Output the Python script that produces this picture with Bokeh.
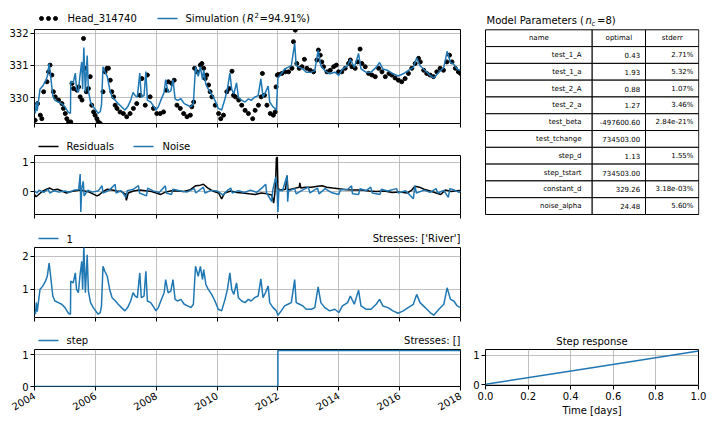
import math
import numpy as np
import pandas as pd
from bokeh.plotting import figure
from bokeh.layouts import row, column
from bokeh.models import (Range1d, FixedTicker, DatetimeTickFormatter,
                          CustomJSTickFormatter, PrintfTickFormatter)
from bokeh.core.properties import value
from bokeh.embed import file_html
from bokeh.resources import INLINE

# ---------------- data ----------------
# observed head (decimal year, m)
obs_t = [2004.02, 2004.10, 2004.19, 2004.24, 2004.30, 2004.41, 2004.46, 2004.51, 2004.57, 2004.62,
         2004.68, 2004.79, 2004.90, 2004.95, 2005.01, 2005.06, 2005.12, 2005.19, 2005.23, 2005.28,
         2005.39, 2005.45, 2005.50, 2005.56, 2005.61, 2005.64, 2005.70, 2005.77, 2005.83, 2005.88,
         2005.94, 2005.99, 2006.05, 2006.10, 2006.16, 2006.25, 2006.32, 2006.38, 2006.43, 2006.49,
         2006.54, 2006.60, 2006.65, 2006.71, 2006.81, 2006.92, 2007.03, 2007.14, 2007.25, 2007.36,
         2007.47, 2007.53, 2007.64, 2007.71, 2007.80, 2007.91, 2008.02, 2008.13, 2008.24, 2008.33,
         2008.40, 2008.51, 2008.59, 2008.68, 2008.79, 2008.90, 2009.01, 2009.12, 2009.17, 2009.23,
         2009.26, 2009.34, 2009.45, 2009.50, 2009.56, 2009.61, 2009.66, 2009.72, 2009.77, 2009.83,
         2009.94, 2010.05, 2010.12, 2010.21, 2010.32, 2010.40, 2010.49, 2010.54, 2010.60, 2010.71,
         2010.81, 2010.92, 2011.03, 2011.17, 2011.25, 2011.36, 2011.45, 2011.49, 2011.56, 2011.64,
         2011.75, 2011.85, 2011.91, 2011.94, 2011.98, 2012.02, 2012.13, 2012.24, 2012.35, 2012.46,
         2012.51, 2012.57, 2012.62, 2012.70, 2012.79, 2012.87, 2012.95, 2013.06, 2013.17, 2013.28,
         2013.33, 2013.39, 2013.44, 2013.50, 2013.61, 2013.72, 2013.83, 2013.92, 2013.99, 2014.10,
         2014.21, 2014.32, 2014.38, 2014.43, 2014.54, 2014.62, 2014.70, 2014.76, 2014.87, 2014.98,
         2015.09, 2015.20, 2015.31, 2015.42, 2015.53, 2015.65, 2015.74, 2015.85, 2015.96, 2016.07,
         2016.18, 2016.29, 2016.40, 2016.51, 2016.62, 2016.68, 2016.79, 2016.89, 2017.00, 2017.11,
         2017.22, 2017.33, 2017.44, 2017.55, 2017.64, 2017.72, 2017.83, 2017.93, 2018.00]
obs_h = [329.29, 329.81, 329.45, 329.34, 330.18, 330.49, 330.80, 331.01, 330.70, 330.18,
         330.02, 329.92, 329.81, 329.66, 329.50, 329.34, 329.24, 329.24, 330.44, 330.28,
         330.23, 330.33, 330.02, 329.92, 331.84, 330.91, 330.18, 330.28, 330.65, 329.76,
         329.55, 329.45, 329.34, 329.24, 329.19, 330.18, 330.80, 330.91, 330.91, 330.54,
         330.18, 330.02, 329.76, 329.66, 329.55, 329.50, 329.40, 329.50, 329.66, 329.81,
         330.07, 330.59, 329.76, 330.70, 330.02, 329.66, 329.50, 329.50, 329.55, 330.23,
         330.49, 330.44, 330.54, 329.76, 329.66, 329.50, 329.40, 329.45, 329.71, 329.86,
         330.91, 330.80, 331.01, 331.06, 330.91, 330.59, 330.70, 330.39, 330.18, 330.02,
         329.76, 329.50, 329.34, 329.45, 330.18, 330.28, 330.82, 330.07, 330.02, 329.92,
         329.76, 329.60, 329.50, 329.34, 329.60, 329.76, 330.02, 330.75, 330.07, 329.76,
         329.50, 329.45, 329.55, 330.33, 330.70, 330.72, 330.75, 330.80, 330.80, 330.91,
         331.74, 332.10, 331.06, 330.91, 330.96, 331.19, 330.91, 330.85, 330.80, 331.17,
         331.48, 331.32, 331.11, 330.96, 330.80, 330.85, 330.96, 331.01, 330.80, 330.80,
         330.91, 331.06, 331.17, 330.96, 330.91, 331.11, 331.51, 331.06, 330.96, 330.75,
         330.70, 330.65, 330.91, 330.80, 330.65, 330.75, 330.70, 330.61, 330.54, 330.49,
         330.59, 330.75, 330.91, 331.06, 331.22, 331.11, 330.85, 330.75, 330.70, 330.65,
         330.80, 330.91, 330.85, 331.11, 331.32, 331.11, 330.91, 330.80, 330.75]

# simulated head and river contribution share the same time stamps
sim_t = [2004.00, 2004.03, 2004.06, 2004.09, 2004.18, 2004.27, 2004.36, 2004.42, 2004.48, 2004.53,
         2004.60, 2004.67, 2004.78, 2004.89, 2005.00, 2005.11, 2005.18, 2005.19, 2005.27, 2005.34,
         2005.38, 2005.44, 2005.49, 2005.55, 2005.58, 2005.62, 2005.67, 2005.73, 2005.77, 2005.84,
         2005.93, 2006.01, 2006.09, 2006.16, 2006.20, 2006.25, 2006.31, 2006.39, 2006.47, 2006.55,
         2006.66, 2006.75, 2006.86, 2006.97, 2007.06, 2007.16, 2007.24, 2007.31, 2007.38, 2007.46,
         2007.51, 2007.60, 2007.66, 2007.71, 2007.82, 2007.93, 2007.99, 2008.07, 2008.15, 2008.26,
         2008.31, 2008.39, 2008.48, 2008.55, 2008.62, 2008.70, 2008.81, 2008.92, 2009.03, 2009.14,
         2009.22, 2009.29, 2009.38, 2009.45, 2009.52, 2009.56, 2009.63, 2009.71, 2009.82, 2009.93,
         2010.04, 2010.15, 2010.26, 2010.34, 2010.42, 2010.48, 2010.55, 2010.64, 2010.70, 2010.81,
         2010.92, 2011.03, 2011.12, 2011.23, 2011.35, 2011.44, 2011.51, 2011.59, 2011.68, 2011.73,
         2011.84, 2011.95, 2012.00, 2012.11, 2012.22, 2012.33, 2012.44, 2012.55, 2012.60, 2012.71,
         2012.82, 2012.93, 2013.10, 2013.21, 2013.32, 2013.41, 2013.54, 2013.70, 2013.87, 2014.00,
         2014.12, 2014.29, 2014.38, 2014.51, 2014.65, 2014.73, 2014.89, 2015.06, 2015.23, 2015.34,
         2015.45, 2015.62, 2015.78, 2015.95, 2016.12, 2016.28, 2016.45, 2016.56, 2016.67, 2016.84,
         2017.00, 2017.12, 2017.29, 2017.45, 2017.56, 2017.67, 2017.78, 2017.89, 2018.00]
sim_h = [329.59, 329.51, 329.86, 329.59, 330.26, 330.36, 330.51, 330.66, 331.06, 330.66,
         330.06, 329.91, 329.86, 329.81, 329.71, 329.54, 329.51, 330.51, 330.46, 330.76,
         330.26, 330.16, 330.66, 331.11, 330.26, 331.56, 330.16, 331.31, 330.21, 329.86,
         329.71, 329.61, 329.51, 329.56, 329.76, 330.96, 330.81, 330.66, 330.26, 330.01,
         329.91, 329.81, 329.71, 329.61, 329.71, 329.91, 330.16, 330.06, 330.01, 330.76,
         330.01, 330.06, 330.81, 329.91, 329.86, 329.71, 329.61, 329.71, 329.91, 330.16,
         330.56, 330.16, 330.21, 330.56, 329.96, 329.91, 329.96, 329.81, 329.76, 329.71,
         329.81, 330.96, 330.66, 330.96, 330.56, 330.86, 330.41, 330.26, 330.11, 329.91,
         329.66, 329.61, 329.96, 330.26, 330.76, 330.26, 330.11, 330.46, 330.01, 329.91,
         329.86, 329.96, 329.91, 330.01, 330.06, 330.58, 330.01, 330.16, 330.36, 329.86,
         329.71, 329.61, 330.61, 330.74, 330.89, 330.94, 330.99, 331.69, 330.99, 330.94,
         330.89, 330.79, 330.79, 330.84, 331.47, 330.99, 330.84, 330.74, 330.79, 330.69,
         330.89, 330.99, 331.19, 330.94, 331.37, 330.89, 330.79, 330.79, 330.94, 331.09,
         330.89, 330.84, 330.74, 330.67, 330.74, 330.84, 330.94, 331.24, 330.99, 330.84,
         330.69, 330.61, 330.79, 330.94, 331.44, 331.09, 331.04, 330.89, 330.84]
river = [0.33, 0.25, 0.60, 0.33, 1.00, 1.10, 1.25, 1.40, 1.80, 1.40,
         0.80, 0.65, 0.60, 0.55, 0.45, 0.28, 0.25, 1.25, 1.20, 1.50,
         1.00, 0.90, 1.40, 1.85, 1.00, 2.30, 0.90, 2.05, 0.95, 0.60,
         0.45, 0.35, 0.25, 0.30, 0.50, 1.70, 1.55, 1.40, 1.00, 0.75,
         0.65, 0.55, 0.45, 0.35, 0.45, 0.65, 0.90, 0.80, 0.75, 1.50,
         0.75, 0.80, 1.55, 0.65, 0.60, 0.45, 0.35, 0.45, 0.65, 0.90,
         1.30, 0.90, 0.95, 1.30, 0.70, 0.65, 0.70, 0.55, 0.50, 0.45,
         0.55, 1.70, 1.40, 1.70, 1.30, 1.60, 1.15, 1.00, 0.85, 0.65,
         0.40, 0.35, 0.70, 1.00, 1.50, 1.00, 0.85, 1.20, 0.75, 0.65,
         0.60, 0.70, 0.65, 0.75, 0.80, 1.32, 0.75, 0.90, 1.10, 0.60,
         0.45, 0.35, 0.22, 0.35, 0.50, 0.55, 0.60, 1.30, 0.60, 0.55,
         0.50, 0.40, 0.40, 0.45, 1.08, 0.60, 0.45, 0.35, 0.40, 0.30,
         0.50, 0.60, 0.80, 0.55, 0.98, 0.50, 0.40, 0.40, 0.55, 0.70,
         0.50, 0.45, 0.35, 0.28, 0.35, 0.45, 0.55, 0.85, 0.60, 0.45,
         0.30, 0.22, 0.40, 0.55, 1.05, 0.70, 0.65, 0.50, 0.45]

res_t = [2004.00, 2004.05, 2004.12, 2004.25, 2004.40, 2004.50, 2004.62, 2004.75, 2004.90, 2005.05,
         2005.20, 2005.35, 2005.50, 2005.65, 2005.80, 2005.95, 2006.05, 2006.12, 2006.25, 2006.40,
         2006.55, 2006.70, 2006.85, 2006.98, 2007.02, 2007.08, 2007.25, 2007.45, 2007.65, 2007.85,
         2008.00, 2008.15, 2008.30, 2008.50, 2008.70, 2008.90, 2009.10, 2009.30, 2009.45, 2009.55,
         2009.70, 2009.90, 2010.05, 2010.15, 2010.25, 2010.45, 2010.65, 2010.85, 2011.05, 2011.25,
         2011.45, 2011.65, 2011.80, 2011.86, 2011.90, 2011.93, 2011.95, 2011.98, 2012.00, 2012.10,
         2012.25, 2012.30, 2012.33, 2012.50, 2012.70, 2012.72, 2012.75, 2012.90, 2013.10, 2013.30,
         2013.45, 2013.60, 2013.80, 2014.00, 2014.25, 2014.50, 2014.75, 2015.00, 2015.25, 2015.50,
         2015.75, 2016.00, 2016.25, 2016.40, 2016.50, 2016.65, 2016.80, 2017.00, 2017.20, 2017.35,
         2017.50, 2017.70, 2017.85, 2018.00]
residuals = [-0.10, -0.18, -0.12, 0.00, 0.08, 0.12, 0.05, 0.08, 0.02, -0.05,
             0.00, 0.03, 0.05, 0.02, -0.02, -0.10, -0.15, -0.12, 0.00, 0.08,
             0.05, 0.02, 0.00, -0.08, -0.30, -0.05, 0.02, 0.05, 0.03, 0.00,
             -0.05, -0.10, -0.02, 0.03, 0.02, 0.00, 0.05, 0.20, 0.22, 0.25,
             0.12, 0.00, -0.05, -0.25, -0.05, 0.02, -0.03, -0.05, -0.08, -0.10,
             -0.05, -0.08, -0.12, -0.40, -0.05, 0.50, 1.15, 1.18, 0.10, 0.05,
             0.08, 0.55, 0.05, 0.10, 0.15, 0.30, 0.12, 0.15, 0.15, 0.18,
             0.20, 0.15, 0.12, 0.10, 0.06, 0.05, 0.05, 0.02, 0.00, 0.02,
             -0.03, -0.02, -0.05, 0.05, 0.18, 0.15, 0.08, 0.02, -0.05, -0.10,
             0.05, 0.00, 0.03, 0.04]

noise_t = [2004.00, 2004.08, 2004.15, 2004.30, 2004.45, 2004.50, 2004.65, 2004.80, 2005.00, 2005.15,
           2005.30, 2005.45, 2005.50, 2005.52, 2005.55, 2005.60, 2005.63, 2005.75, 2005.90, 2006.10,
           2006.22, 2006.25, 2006.45, 2006.65, 2006.68, 2006.85, 2007.00, 2007.05, 2007.25, 2007.42,
           2007.45, 2007.68, 2007.72, 2007.90, 2008.10, 2008.30, 2008.33, 2008.50, 2008.55, 2008.80,
           2009.00, 2009.25, 2009.30, 2009.55, 2009.60, 2009.80, 2010.00, 2010.20, 2010.35, 2010.45,
           2010.50, 2010.70, 2010.90, 2011.10, 2011.30, 2011.45, 2011.60, 2011.63, 2011.80, 2011.83,
           2011.93, 2011.97, 2012.00, 2012.03, 2012.15, 2012.30, 2012.32, 2012.35, 2012.55, 2012.60,
           2012.80, 2013.00, 2013.05, 2013.30, 2013.35, 2013.55, 2013.75, 2014.00, 2014.05, 2014.30,
           2014.42, 2014.45, 2014.65, 2014.70, 2014.90, 2015.05, 2015.10, 2015.35, 2015.40, 2015.60,
           2015.90, 2015.95, 2016.20, 2016.45, 2016.50, 2016.55, 2016.80, 2017.00, 2017.20, 2017.25,
           2017.45, 2017.60, 2017.65, 2017.80, 2017.95, 2018.00]
noise = [0.02, -0.05, 0.05, -0.03, 0.08, -0.05, 0.03, -0.02, 0.02, -0.03,
         0.05, 0.06, 0.60, -0.70, 0.10, 0.35, -0.15, 0.05, -0.02, 0.03,
         0.20, -0.05, 0.04, 0.25, -0.05, 0.03, -0.20, 0.03, 0.08, 0.20,
         -0.05, -0.15, 0.12, 0.02, -0.03, 0.20, -0.05, -0.10, 0.08, 0.02,
         -0.02, 0.10, -0.05, 0.15, -0.05, 0.04, 0.02, -0.12, 0.05, 0.12,
         -0.05, 0.03, -0.03, 0.05, -0.03, 0.10, 0.25, -0.05, -0.35, 0.05,
         0.50, 0.10, -0.70, 0.05, 0.03, 0.55, -0.35, 0.02, 0.10, -0.08,
         0.05, 0.15, -0.05, 0.12, -0.08, 0.10, -0.03, -0.10, 0.05, 0.08,
         0.20, -0.08, -0.10, 0.10, 0.03, 0.15, -0.05, -0.10, 0.08, 0.02,
         0.10, -0.05, 0.03, -0.25, 0.20, -0.05, 0.05, -0.03, 0.10, -0.05,
         0.04, -0.20, 0.10, 0.05, -0.03, 0.02]

step_t = [2004.0, 2012.0, 2018.0]
step_v = [0.0, 1.13, 1.13]

resp_t = [0.0, 0.5, 1.0]
resp_v = [0.02, 0.58, 1.14]

param_names = ["test_1_A", "test_1_a", "test_2_A", "test_2_a", "test_beta", "test_tchange",
               "step_d", "step_tstart", "constant_d", "noise_alpha"]
param_optimal = [0.43, 1.93, 0.88, 1.27, -497600.60, 734503.00, 1.13, 734503.00, 329.26, 24.48]
param_stderr = [2.71, 5.32, 1.07, 3.46, 2.84e-21, None, 1.55, None, 3.18e-03, 5.60]

# ---------------- helpers ----------------
BLUE = "#1f77b4"
FONT = "DejaVu Sans"


def to_dt(years):
    out = []
    for y in years:
        yi = int(math.floor(y))
        frac = y - yi
        a = pd.Timestamp(year=yi, month=1, day=1)
        b = pd.Timestamp(year=yi + 1, month=1, day=1)
        out.append(a + (b - a) * frac)
    return out


def ms(ts):
    return pd.Timestamp(ts).timestamp() * 1000.0


x_range = Range1d(start=ms("2004-01-01"), end=ms("2018-01-01"))
year_ticks = [ms(f"{y}-01-01") for y in range(2004, 2019, 2)]


def no_align(p):
    if "frame_align" in p.properties():
        p.frame_align = False


def style(p, yticks):
    p.outline_line_color = "black"
    p.outline_line_alpha = 1.0
    p.outline_line_width = 1
    p.background_fill_color = "white"
    p.border_fill_color = "white"
    for ax in p.axis:
        ax.axis_line_color = None
        ax.major_tick_out = 4
        ax.major_tick_in = 0
        ax.minor_tick_out = 0
        ax.minor_tick_in = 0
        ax.major_tick_line_color = "black"
        ax.major_label_text_font = FONT
        ax.major_label_text_font_size = "10px"
        ax.major_label_text_color = "black"
        ax.major_label_standoff = 2
    p.grid.grid_line_color = "#b0b0b0"
    p.grid.grid_line_width = 0.8
    p.yaxis.ticker = FixedTicker(ticks=yticks)


def ts_fig(h, top, bottom, y0, y1, yticks, labels=False):
    p = figure(width=470, height=h, x_axis_type="datetime", x_range=x_range,
               y_range=Range1d(y0, y1), output_backend="svg", toolbar_location=None,
               min_border_left=34, min_border_right=10, min_border_top=top,
               min_border_bottom=bottom)
    style(p, yticks)
    p.xaxis.ticker = FixedTicker(ticks=year_ticks)
    if labels:
        fmt = "%Y"
        p.xaxis.formatter = DatetimeTickFormatter(
            years=fmt, months=fmt, days=fmt, hours=fmt, hourmin=fmt, minutes=fmt,
            minsec=fmt, seconds=fmt, milliseconds=fmt, microseconds=fmt)
        p.xaxis.major_label_orientation = math.pi / 6
        p.xaxis.major_label_standoff = 4
    else:
        p.xaxis.formatter = CustomJSTickFormatter(code="return ''")
    return p


def header_fig(h, w, left, right):
    """A strip whose frame spans canvas pixels [left, w-right]; x in canvas pixels."""
    p = figure(width=w, height=h, x_range=Range1d(left, w - right), y_range=Range1d(h, 0),
               x_axis_type=None, y_axis_type=None, output_backend="svg",
               toolbar_location=None, min_border=0, min_border_left=left,
               min_border_right=right, min_border_top=0, min_border_bottom=0)
    p.outline_line_color = None
    p.background_fill_color = "white"
    p.border_fill_color = "white"
    no_align(p)
    return p


def put_text(p, x, y, txt, size="10px", align="left", style_="normal"):
    p.text(x=[x], y=[y], text=[txt], text_align=align, text_baseline="middle",
           text_font=value(FONT), text_font_size=value(size),
           text_font_style=style_, text_color="black")


def key_line(p, x0, y, color):
    p.segment(x0=[x0], y0=[y], x1=[x0 + 20], y1=[y], line_color=color, line_width=1.5)


# ---------------- panel 1: heads ----------------
h1 = header_fig(26, 470, 34, 10)
h1.scatter(x=[41, 48, 55], y=[18, 18, 18], size=4, color="black")
put_text(h1, 67, 18, "Head_314740")
key_line(h1, 157, 18, BLUE)
put_text(h1, 185, 18, "Simulation (")
put_text(h1, 246.5, 18, "R", style_="italic")
put_text(h1, 254, 14.5, "2", size="7px")
put_text(h1, 259, 18, "=94.91%)")

p1 = ts_fig(112, 3, 15, 329.19, 332.12, [330, 331, 332])
p1.scatter(to_dt(obs_t), obs_h, size=4, color="black")
p1.line(to_dt(sim_t), sim_h, color=BLUE, line_width=1.5)

# ---------------- panel 2: residuals / noise ----------------
h2 = header_fig(14, 470, 34, 10)
key_line(h2, 38, 8, "black")
put_text(h2, 66, 8, "Residuals")
key_line(h2, 133, 8, BLUE)
put_text(h2, 162, 8, "Noise")

p2 = ts_fig(78, 3, 16, -0.79, 1.24, [0, 1])
p2.line(to_dt(res_t), residuals, color="black", line_width=1.5)
p2.line(to_dt(noise_t), noise, color=BLUE, line_width=1.5)

# ---------------- panel 3: river contribution ----------------
h3 = header_fig(14, 470, 34, 10)
key_line(h3, 38, 8, BLUE)
put_text(h3, 66, 8, "1")
put_text(h3, 460, 8, "Stresses: ['River']", align="right")

p3 = ts_fig(86, 3, 13, 0.15, 2.27, [1, 2])
p3.line(to_dt(sim_t), river, color=BLUE, line_width=1.5)

# ---------------- panel 4: step ----------------
h4 = header_fig(16, 470, 34, 10)
key_line(h4, 38, 10, BLUE)
put_text(h4, 66, 10, "step")
put_text(h4, 460, 10, "Stresses: []", align="right")

p4 = ts_fig(78, 3, 38, 0.0, 1.16, [0, 1], labels=True)
p4.step(to_dt(step_t), step_v, mode="after", color=BLUE, line_width=1.5)

# ---------------- parameter table ----------------
pt = header_fig(330, 242, 14, 13)

col_edges = [15.0, 121.7, 175.0, 228.3]
row_top = 29.3
row_h = 16.79
n_rows = len(param_names) + 1
L, R, T, B = [], [], [], []
for i in range(n_rows):
    for j in range(3):
        L.append(col_edges[j]); R.append(col_edges[j + 1])
        T.append(row_top + i * row_h); B.append(row_top + (i + 1) * row_h)
pt.quad(left=L, right=R, top=T, bottom=B, fill_color="white", line_color="black", line_width=1)

for j, hdr in enumerate(["name", "optimal", "stderr"]):
    put_text(pt, (col_edges[j] + col_edges[j + 1]) / 2, row_top + 0.5 * row_h, hdr,
             size="7px", align="center")

opt_txt = [f"{v:.2f}" for v in param_optimal]
err_txt = ["" if v is None else (f"{v:.2e}%" if v < 0.01 else f"{v:.2f}%") for v in param_stderr]
for j, col in enumerate([param_names, opt_txt, err_txt]):
    w = col_edges[j + 1] - col_edges[j]
    for i, txt in enumerate(col):
        if txt:
            put_text(pt, col_edges[j + 1] - 0.1 * w, row_top + (i + 1.5) * row_h, txt,
                     size="7px", align="right")

put_text(pt, 16, 20, "Model Parameters (")
put_text(pt, 115, 20, "n", style_="italic")
put_text(pt, 121, 23, "c", size="7px")
put_text(pt, 126.5, 20, "=8)")

# ---------------- step response ----------------
ps = figure(width=242, height=94, x_range=Range1d(0, 1), y_range=Range1d(-0.02, 1.19),
            output_backend="svg", toolbar_location=None, min_border_left=14,
            min_border_right=14, min_border_top=19, min_border_bottom=39,
            title="Step response")
no_align(ps)
style(ps, [0, 1])
ps.xaxis.ticker = FixedTicker(ticks=[0.0, 0.2, 0.4, 0.6, 0.8, 1.0])
ps.xaxis.formatter = PrintfTickFormatter(format="%.1f")
ps.xaxis.axis_label = "Time [days]"
ps.xaxis.axis_label_text_font = FONT
ps.xaxis.axis_label_text_font_size = "10px"
ps.xaxis.axis_label_text_font_style = "normal"
ps.xaxis.axis_label_text_color = "black"
ps.xaxis.axis_label_standoff = 2
ps.title.align = "center"
ps.title.text_font = FONT
ps.title.text_font_size = "10px"
ps.title.text_font_style = "normal"
ps.title.text_color = "black"
ps.title.standoff = 5
ps.line(resp_t, resp_v, color=BLUE, line_width=1.5)

layout = row(column(h1, p1, h2, p2, h3, p3, h4, p4), column(pt, ps))
open("out.html", "w").write(file_html(layout, INLINE))
